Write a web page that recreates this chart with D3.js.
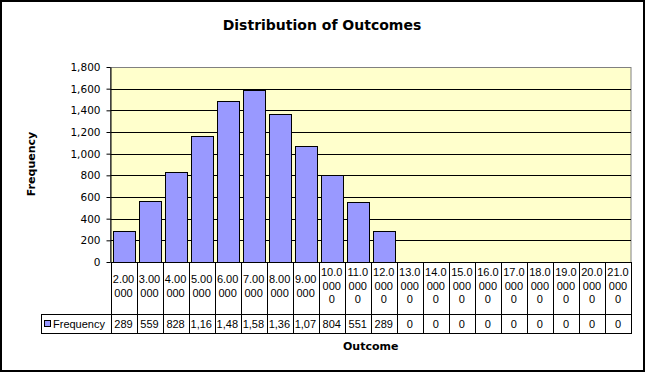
<!DOCTYPE html>
<html>
<head>
<meta charset="utf-8">
<script src="https://cdn.jsdelivr.net/npm/d3@7"></script>
<style>
  html, body { margin: 0; padding: 0; background: #fff; }
  svg { display: block; }
</style>
</head>
<body>
<svg id="chart" width="647" height="374"></svg>
<script>
// ---- data ----
const categories = ["2.00000","3.00000","4.00000","5.00000","6.00000","7.00000","8.00000",
  "9.00000","10.00000","11.00000","12.00000","13.00000","14.00000","15.00000","16.00000",
  "17.00000","18.00000","19.00000","20.00000","21.00000"];
const frequency = [289, 559, 828, 1165, 1487, 1584, 1367, 1073, 804, 551, 289, 0, 0, 0, 0, 0, 0, 0, 0, 0];
const yTicks = [0, 200, 400, 600, 800, 1000, 1200, 1400, 1600, 1800];
const seriesName = "Frequency";
const title = "Distribution of Outcomes";
const xTitle = "Outcome";
const yTitle = "Frequency";

// ---- layout ----
const svg = d3.select("#chart");
const pLeft = 110.5, pRight = 631, pTop = 67, pBottom = 262;
const tableMid = 314, tableBottom = 333, legendLeft = 41;

svg.append("rect").attr("x", 1).attr("y", 1).attr("width", 643).attr("height", 370)
  .attr("fill", "#fff").attr("stroke", "#000").attr("stroke-width", 2);

const x = d3.scaleBand().domain(categories).range([pLeft, pRight]).paddingInner(0.154).paddingOuter(0.077);
const xc = d3.scaleBand().domain(categories).range([pLeft, pRight]);
const y = d3.scaleLinear().domain([0, 1800]).range([pBottom, pTop]);

// plot area
svg.append("rect").attr("x", pLeft).attr("y", pTop + 0.5).attr("width", pRight - pLeft).attr("height", pBottom - pTop)
  .attr("fill", "#ffffcc").attr("stroke", "#808080").attr("stroke-width", 1);

// gridlines
svg.append("g").selectAll("line").data(yTicks.filter(d => d > 0 && d < 1800)).join("line")
  .attr("x1", pLeft).attr("x2", pRight)
  .attr("y1", d => Math.round(y(d)) + 0.5).attr("y2", d => Math.round(y(d)) + 0.5)
  .attr("stroke", "#000").attr("stroke-width", 1);

// bars
svg.append("g").selectAll("rect").data(frequency.map((v, i) => ({c: categories[i], v})).filter(d => d.v > 0))
  .join("rect")
  .attr("x", d => Math.round(x(d.c)) + 0.5)
  .attr("y", d => Math.round(y(d.v)) + 0.5)
  .attr("width", Math.round(x.bandwidth()))
  .attr("height", d => Math.round(y(0)) - Math.round(y(d.v)))
  .attr("fill", "#9999ff").attr("stroke", "#000").attr("stroke-width", 1);

// y axis
const yAxis = svg.append("g").attr("transform", `translate(${pLeft},0)`)
  .call(d3.axisLeft(y).tickValues(yTicks).tickSize(4).tickSizeOuter(0).tickPadding(6).tickFormat(d3.format(",")));
yAxis.select(".domain").attr("stroke", "#000");
yAxis.selectAll(".tick line").attr("stroke", "#000");
yAxis.selectAll(".tick text").attr("font-family", "'DejaVu Sans', Verdana, sans-serif")
  .attr("font-size", "10.5px").attr("fill", "#000");

// table lines
const tg = svg.append("g").attr("stroke", "#000").attr("stroke-width", 1).attr("shape-rendering", "crispEdges");
tg.append("line").attr("x1", pLeft).attr("x2", pRight).attr("y1", pBottom + 0.5).attr("y2", pBottom + 0.5);
tg.append("line").attr("x1", legendLeft).attr("x2", pRight).attr("y1", tableMid + 0.5).attr("y2", tableMid + 0.5);
tg.append("line").attr("x1", legendLeft).attr("x2", pRight).attr("y1", tableBottom + 0.5).attr("y2", tableBottom + 0.5);
tg.append("line").attr("x1", legendLeft + 0.5).attr("x2", legendLeft + 0.5).attr("y1", tableMid).attr("y2", tableBottom + 1);
tg.selectAll("line.v").data(categories.concat(["__end"])).join("line").attr("class", "v")
  .attr("x1", (d, i) => Math.round(i < categories.length ? xc(d) : pRight) + 0.5)
  .attr("x2", (d, i) => Math.round(i < categories.length ? xc(d) : pRight) + 0.5)
  .attr("y1", pBottom).attr("y2", tableBottom + 1);

const tableFont = "'Liberation Sans', Arial, sans-serif";
// measuring helper
const meas = svg.append("text").attr("font-family", tableFont).attr("font-size", "11px").attr("visibility", "hidden");
function textW(s) { meas.text(s); return meas.node().getComputedTextLength(); }
const maxW = 23;
function wrapChars(s) {
  const out = []; let cur = "";
  for (const ch of s) {
    if (cur && textW(cur + ch) > maxW) { out.push(cur); cur = ch; } else cur += ch;
  }
  if (cur) out.push(cur);
  return out;
}

// header labels (wrapped)
const hdr = svg.append("g").attr("font-family", tableFont).attr("font-size", "11px").attr("fill", "#000")
  .attr("text-anchor", "middle");
categories.forEach(c => {
  const lines = wrapChars(c);
  const cx = xc(c) + xc.bandwidth() / 2;
  const lh = 13.5, mid = 286;
  lines.forEach((ln, j) => {
    hdr.append("text").attr("x", cx).attr("y", mid - (lines.length - 1) * lh / 2 + j * lh)
      .attr("dy", "0.35em").text(ln);
  });
});

// data row values (truncated like a narrow cell)
const fmt = d3.format(",");
const dr = svg.append("g").attr("font-family", tableFont).attr("font-size", "11px").attr("fill", "#000");
frequency.forEach((v, i) => {
  const c = categories[i];
  let s = fmt(v);
  const t = dr.append("text").attr("y", (tableMid + tableBottom) / 2 + 1).attr("dy", "0.35em");
  if (textW(s) > maxW) {
    while (s.length > 1 && textW(s) > maxW) s = s.slice(0, -1);
    t.attr("x", xc(c) + 2).attr("text-anchor", "start").text(s);
  } else {
    t.attr("x", xc(c) + xc.bandwidth() / 2).attr("text-anchor", "middle").text(s);
  }
});

// legend key
svg.append("rect").attr("x", 44.5).attr("y", 320.5).attr("width", 6).attr("height", 6)
  .attr("fill", "#9999ff").attr("stroke", "#000").attr("stroke-width", 1);
svg.append("text").attr("x", 53).attr("y", (tableMid + tableBottom) / 2 + 1).attr("dy", "0.35em")
  .attr("font-family", tableFont).attr("font-size", "11px").text(seriesName);

// titles
const boldFont = "'DejaVu Sans', Verdana, sans-serif";
svg.append("text").attr("x", 322).attr("y", 25).attr("dy", "0.35em").attr("text-anchor", "middle")
  .attr("font-family", boldFont).attr("font-weight", "bold").attr("font-size", "14px").text(title);
svg.append("text").attr("x", (pLeft + pRight) / 2).attr("y", 346).attr("dy", "0.35em").attr("text-anchor", "middle")
  .attr("font-family", boldFont).attr("font-weight", "bold").attr("font-size", "11px").text(xTitle);
svg.append("text").attr("transform", "translate(31,164) rotate(-90)").attr("dy", "0.35em").attr("text-anchor", "middle")
  .attr("font-family", boldFont).attr("font-weight", "bold").attr("font-size", "11px").text(yTitle);
</script>
</body>
</html>
